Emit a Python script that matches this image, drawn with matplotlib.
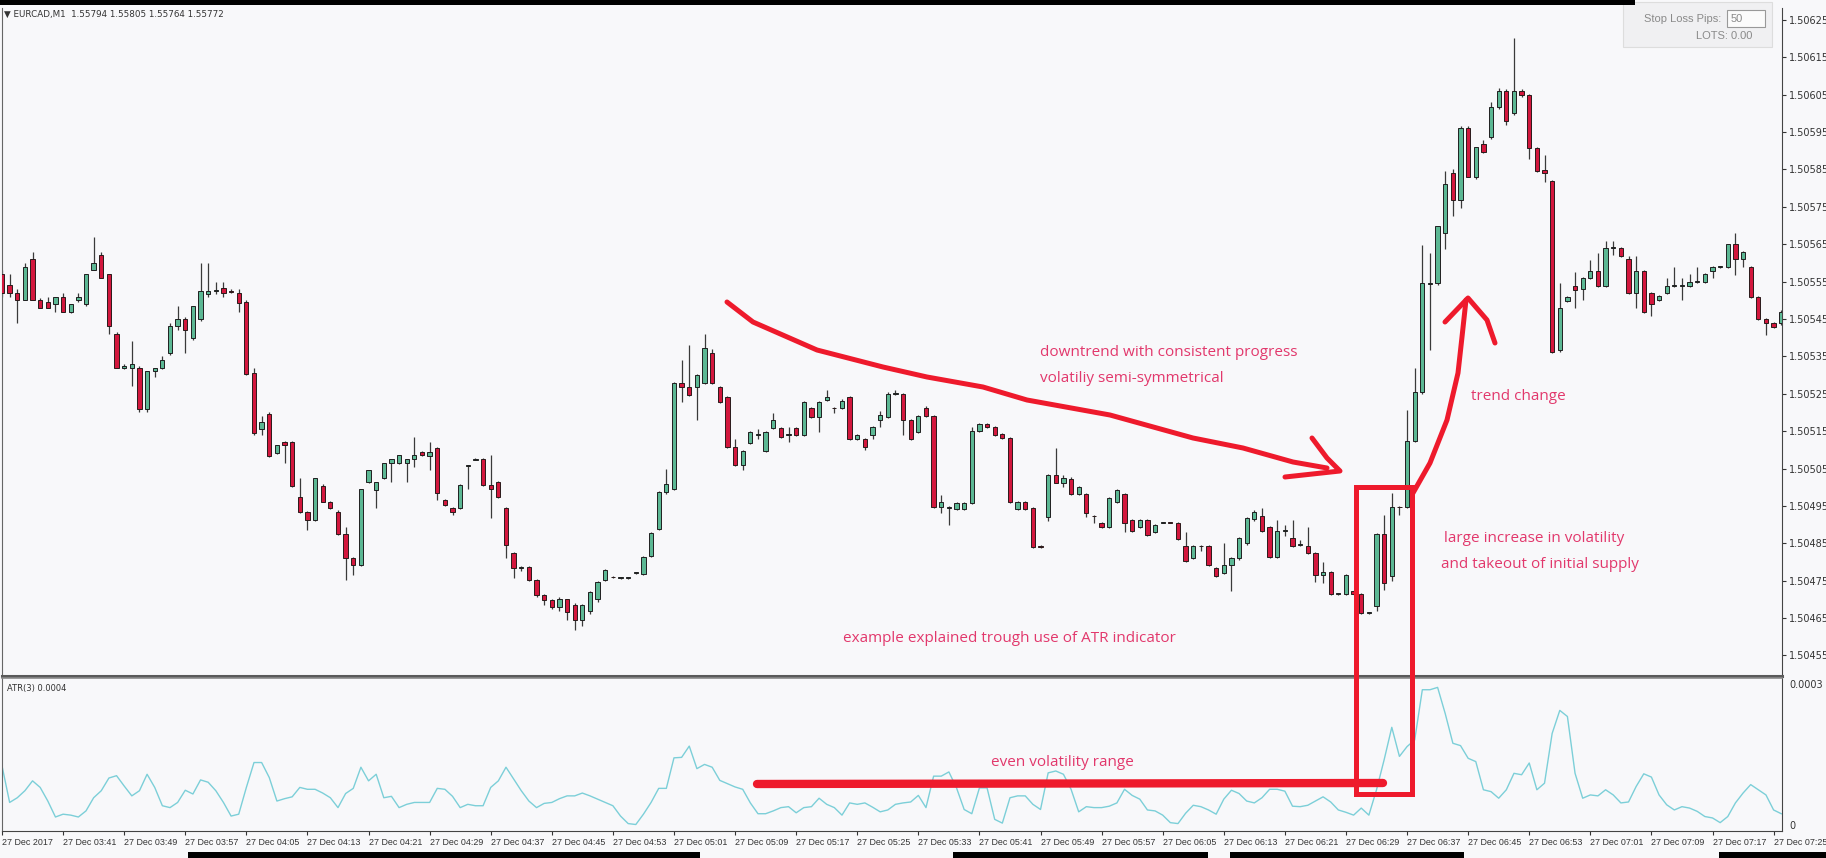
import matplotlib.pyplot as plt
import numpy as np
from matplotlib.lines import Line2D
from matplotlib.patches import Rectangle

W, H = 1826, 858

# EURCAD M1 bars, values in points above 1.50000 (1 point = 0.00001)
open_pts = [557, 554, 552, 550, 561, 550, 549.5, 549, 551, 547, 550, 549, 558, 562, 557, 541, 532, 532, 532, 521,
            531, 532, 536, 543, 545, 540, 545, 551.7, 552.5, 553.3, 552.5, 552, 549.5, 530.6, 515.6, 519.6, 509.2, 512.1, 512.1, 497.4,
            493.4, 491.2, 500.3, 496.1, 493.4, 487.5, 481.1, 479.2, 501.4, 499.3, 502.5, 506.5, 506.5, 506.5, 507.6, 509.4, 508.4, 510.5, 496.6, 494.5,
            494.5, 505.7, 507.4, 507.6, 500.6, 501.4, 494.5, 482.5, 478.5, 478.7, 475.2, 471.2, 469.9, 468, 470, 468.5, 464.5, 467, 470, 475.2,
            476, 475.8, 475.7, 477, 476.8, 481.6, 488.8, 498.7, 499.5, 527.9, 526.8, 526.8, 527.9, 535.9, 526.8, 524.1, 510.8, 506, 511.8, 514,
            509.7, 515.9, 515.9, 514, 515.9, 514, 521.2, 518.8, 523.3, 521.2, 521.2, 524.1, 512.9, 512.9, 514, 518, 518.8, 525, 525, 518,
            514.8, 521.2, 519, 494.7, 494.5, 494.2, 494.2, 495.8, 515, 516.9, 516.1, 514.2, 513.2, 494.2, 496, 494.5, 484.1, 492, 503.3, 501.2,
            502.2, 498.2, 498.2, 492.3, 490.5, 489.4, 496, 498.2, 491.2, 489.4, 491.2, 488, 490.5, 490.5, 490.5, 484.3, 481.1, 484.3, 484.3, 478.4,
            477.1, 479.2, 481.1, 485.1, 491.5, 492.3, 489.4, 481.4, 488.3, 486.4, 484.5, 484.3, 482.4, 476.5, 477.4, 471.5, 471.5, 472.3, 471.5, 466.4,
            468.3, 487.5, 476.3, 494.7, 494.7, 512.4, 525.5, 554.3, 554.6, 568, 584, 576.8, 596.1, 583, 591.8, 593.7, 601.7, 606, 600.1, 606,
            604.9, 590.7, 584.8, 581.9, 536.7, 549.8, 553.8, 553, 556, 557.8, 553.8, 564, 564, 561, 552, 557.8, 552, 550.1, 552, 553.8,
            553.8, 553.8, 554.9, 554.9, 557.8, 558.9, 558.9, 565, 561, 558.9, 550.9, 545, 543.9, 543.9]
high_pts = [558, 557, 553, 560, 563, 550.5, 551, 551, 552, 549, 552, 557, 567, 563, 557, 541.5, 533, 539, 532.5, 531,
            532, 535, 544, 548.5, 545.5, 548.5, 560, 560, 555, 555, 553, 553, 550, 532, 519, 520, 511.3, 512.3, 512.3, 502.5,
            493.6, 502.5, 500.8, 496.3, 493.8, 489.4, 481.3, 499.5, 504.6, 501.4, 506.5, 507.6, 508.6, 507.6, 513.4, 509.6, 512.1, 510.8, 496.9, 494.7,
            500.8, 505.9, 507.8, 507.8, 508.6, 501.7, 494.8, 482.8, 478.9, 479, 475.4, 471.4, 470.2, 470.5, 470.2, 469, 468.8, 472.3, 474.9, 478.2,
            476.3, 476.1, 476, 477.3, 481.6, 488, 498.9, 504.9, 528.1, 534, 538, 530.2, 541, 537, 527, 524.3, 512.9, 509.9, 515, 515.5,
            515, 519.9, 516.1, 516, 516.1, 523, 521.4, 523, 526, 521.5, 523.5, 524.3, 514.2, 513.1, 516.3, 520.4, 525.5, 526, 525.2, 518.2,
            519.2, 521.8, 519.2, 498, 495, 496, 496, 516.1, 517.2, 517.3, 516.3, 514.5, 513.4, 496.3, 496.2, 494.7, 484.5, 503.5, 510.5, 503.3,
            502.8, 500.3, 498.4, 492.6, 490.8, 497.3, 499.5, 498.4, 491.4, 491.4, 491.4, 490.2, 490.7, 490.7, 490.8, 488, 484.5, 484.5, 484.5, 478.6,
            485, 481.3, 486.6, 492, 494, 494.5, 489.6, 491.2, 490, 491.2, 486, 489.4, 482.6, 480, 477.6, 471.8, 476.7, 472.5, 471.7, 466.6,
            487.7, 492.6, 498.5, 495, 520.7, 531.9, 564.8, 562.6, 570, 584.6, 585, 596.5, 596.5, 591, 592.9, 603, 606.8, 606.5, 620.1, 606.5,
            605.2, 591, 588.9, 582.2, 554.6, 551.2, 557.6, 556.3, 560.8, 562.6, 565.9, 565.9, 564.3, 561.8, 561.8, 558.1, 552.3, 551.5, 556, 558.9,
            556, 557, 558.9, 557.2, 559.2, 559.1, 565.2, 568, 563.2, 559.2, 551.2, 545.3, 544.2, 547.5]
low_pts = [551, 551, 544, 550, 550, 548, 548, 547, 547, 546.5, 549.5, 548.5, 558, 556, 541, 532, 531.5, 527, 520, 520,
           529.5, 531.5, 535.5, 542, 536, 539.5, 544.5, 551, 551.7, 551, 552, 547, 530, 514, 514, 508, 509, 506.5, 500, 493,
           488.6, 491, 496, 494.3, 487.3, 475.2, 476.5, 479, 501.2, 494.5, 502.3, 501.4, 506.3, 501.4, 505.4, 508.4, 504.6, 496.6, 495.1, 492.6,
           494.3, 499.5, 507.2, 500.4, 491.8, 497.2, 481.1, 475.7, 477.5, 475, 470.5, 468.5, 467.3, 467, 464.5, 461.8, 463, 466.2, 469.2, 475,
           475.6, 475.5, 475.4, 476.7, 476.5, 481.3, 488.5, 498.3, 499.2, 522.8, 524.5, 518, 527.5, 527.5, 522.5, 510.6, 505.8, 504.6, 511.5, 513,
           509.4, 515.6, 513.2, 512, 513.8, 513.8, 518.6, 514.8, 523, 519.8, 521, 512.7, 512.5, 510, 513, 516, 518.6, 524.8, 514, 512.7,
           514.5, 518.8, 494.5, 493, 489.9, 494, 494, 495.5, 514.8, 515.8, 513.8, 513, 495.8, 494, 493.8, 483.8, 483.7, 491, 501, 500,
           498, 498, 492, 490.5, 489.2, 489.2, 495.8, 488, 488, 489.2, 487, 487.8, 490.3, 490.3, 486, 480, 480.9, 482.9, 479, 476,
           476.9, 472.3, 480.5, 484.5, 491, 488, 481.2, 481.2, 487, 484.1, 484.3, 482.2, 474.7, 474.4, 471.3, 471.2, 471.3, 471.2, 466.2, 466.1,
           467, 472.5, 475, 492.6, 494.4, 512, 525, 536.7, 554.2, 563.7, 572.5, 574.7, 583, 582.5, 589.5, 593.2, 601.2, 597, 599.5, 604.5,
           587.8, 584.4, 581.6, 535.9, 536.2, 549.5, 547.9, 550.1, 555.6, 553.5, 553.5, 562.1, 561.5, 551.7, 547.9, 546.6, 545.8, 549.8, 551.8, 553.5,
           550.1, 553.5, 554.6, 554.6, 556, 558.7, 558.7, 556.8, 558.9, 550.6, 544.7, 540.7, 542.6, 543.5]
close_pts = [552, 552, 550, 559, 550, 548, 548, 551, 547, 549, 551, 557, 560, 556, 543, 532, 532.3, 533, 521, 531,
             532, 534, 543, 545, 542, 548.5, 552.5, 552.5, 552.7, 552, 552.3, 549.3, 530.3, 514.5, 517.5, 508.4, 511.3, 511.3, 500.3, 493.4,
             491.2, 502.5, 496.1, 494.5, 487.5, 481.1, 479.2, 499.5, 504.6, 501.4, 506.5, 507.6, 508.6, 507.6, 508.6, 508.6, 509.4, 498.5, 495.3, 493.4,
             500.6, 505.7, 507.6, 500.6, 499.5, 497.4, 484.6, 478.4, 478.7, 475.2, 471.2, 469.9, 468, 470, 466.6, 464.5, 468.5, 472, 474.7, 477.9,
             475.9, 475.8, 475.7, 477, 481.4, 487.8, 498.7, 500.9, 527.9, 526.8, 524.7, 530, 537.2, 527.9, 522.8, 510.8, 506, 509.7, 514.8, 514.2,
             514.8, 518, 513.4, 514.1, 514, 522.8, 518.8, 522.8, 524.1, 521.1, 523, 512.9, 514, 510.8, 516.1, 519.3, 525, 525.1, 518, 512.9,
             519, 519, 494.7, 496, 494.5, 495.8, 495.8, 515, 516.9, 516.1, 514, 513.2, 496, 496, 494.2, 484, 484, 503.3, 501.2, 502.5,
             498.2, 500.1, 493.1, 492.2, 489.4, 497.1, 499.3, 490.5, 488.2, 491.2, 487.2, 490, 490.5, 490.4, 486.2, 480.2, 484.3, 484.2, 479.2, 476.3,
             479.2, 481.1, 486.4, 491.8, 493.4, 488.3, 481.4, 488.3, 488.4, 484.3, 484.6, 482.4, 476.5, 477.4, 471.5, 471.5, 476.5, 471.5, 466.4, 466.4,
             487.5, 474.4, 494.7, 494.6, 512.4, 525.5, 554.6, 554.6, 569.9, 581.1, 576.8, 596.1, 583, 591, 589.7, 601.7, 606, 598, 606, 604.9,
             590.7, 584.6, 584, 536.1, 547.9, 550.9, 552.8, 556, 557.8, 553.8, 564, 564.1, 561.8, 552, 557.8, 546.9, 549, 551.2, 553.8, 553.9,
             553.8, 554.9, 555, 557, 558.9, 558.9, 565, 561, 562.9, 550.9, 545, 543.9, 542.9, 546.9]

# ATR(3), in points
atr_pts = [12.6, 4.8, 5.8, 7.3, 9.4, 8.0, 5.1, 1.7, 2.3, 2.1, 1.7, 3.0, 5.8, 7.3, 10.0, 10.5, 8.3, 6.2, 7.3, 10.8,
           8.0, 4.1, 3.7, 4.8, 7.4, 6.6, 9.6, 9.1, 7.3, 4.8, 1.9, 2.3, 8.0, 13.3, 13.3, 10.1, 5.1, 5.6, 6.0, 8.0,
           7.6, 7.6, 6.8, 5.8, 3.7, 6.7, 7.8, 12.3, 9.4, 10.8, 5.8, 6.1, 3.7, 4.4, 4.8, 4.8, 4.8, 7.8, 7.6, 6.1,
           3.7, 4.4, 4.1, 4.1, 8.0, 9.4, 12.3, 9.8, 7.3, 5.1, 3.7, 4.6, 4.8, 5.6, 6.2, 6.2, 6.8, 6.2, 5.5, 4.8,
           4.1, 1.9, 0.3, 0.1, 2.3, 4.8, 7.8, 7.8, 14.3, 14.4, 16.8, 12.0, 12.9, 12.3, 9.5, 8.8, 8.1, 7.6, 4.7, 2.4,
           2.4, 3.0, 3.7, 3.9, 2.6, 3.7, 3.9, 5.7, 4.4, 3.7, 2.1, 4.7, 4.4, 4.7, 3.8, 2.8, 3.2, 4.4, 4.7, 4.9,
           6.3, 3.7, 10.4, 10.4, 11.3, 7.9, 3.3, 2.4, 7.9, 7.9, 1.2, 0.4, 5.8, 6.2, 6.2, 4.4, 3.3, 11.1, 11.5, 10.8,
           7.6, 2.8, 3.9, 3.7, 3.7, 4.0, 4.7, 7.6, 6.3, 5.5, 3.2, 3.0, 2.1, 0.5, 0.3, 2.5, 4.2, 3.9, 3.2, 2.3,
           5.5, 7.4, 6.7, 5.1, 4.7, 5.8, 7.6, 7.6, 7.2, 4.0, 3.9, 4.2, 5.1, 6.0, 4.9, 3.2, 2.7, 2.1, 3.6, 2.1,
           7.5, 13.9, 20.8, 14.6, 16.7, 18.1, 28.8, 28.8, 29.3, 23.7, 17.4, 16.9, 14.2, 13.5, 7.5, 7.1, 5.7, 7.5, 11.0, 10.7,
           13.2, 7.5, 8.9, 19.5, 24.4, 23.1, 11.0, 5.7, 6.4, 6.2, 7.5, 6.4, 4.7, 4.9, 8.2, 10.9, 10.2, 6.4, 4.3, 3.2,
           3.9, 3.6, 2.9, 1.8, 1.5, 0.5, 1.8, 4.7, 6.8, 8.6, 7.5, 6.4, 3.2, 2.4]

price_ticks = [1.50455, 1.50465, 1.50475, 1.50485, 1.50495, 1.50505, 1.50515, 1.50525, 1.50535,
               1.50545, 1.50555, 1.50565, 1.50575, 1.50585, 1.50595, 1.50605, 1.50615, 1.50625]
time_ticks = [0, 8, 16, 24, 32, 40, 48, 56, 64, 72, 80, 88, 96, 104, 112, 120, 128, 136, 144, 152,
              160, 168, 176, 184, 192, 200, 208, 216, 224, 232]
time_labels = ["27 Dec 2017", "27 Dec 03:41", "27 Dec 03:49", "27 Dec 03:57", "27 Dec 04:05", "27 Dec 04:13",
               "27 Dec 04:21", "27 Dec 04:29", "27 Dec 04:37", "27 Dec 04:45", "27 Dec 04:53", "27 Dec 05:01",
               "27 Dec 05:09", "27 Dec 05:17", "27 Dec 05:25", "27 Dec 05:33", "27 Dec 05:41", "27 Dec 05:49",
               "27 Dec 05:57", "27 Dec 06:05", "27 Dec 06:13", "27 Dec 06:21", "27 Dec 06:29", "27 Dec 06:37",
               "27 Dec 06:45", "27 Dec 06:53", "27 Dec 07:01", "27 Dec 07:09", "27 Dec 07:17", "27 Dec 07:25"]

o = 1.5 + np.array(open_pts) / 1e5
h = 1.5 + np.array(high_pts) / 1e5
l = 1.5 + np.array(low_pts) / 1e5
c = 1.5 + np.array(close_pts) / 1e5
atr = np.array(atr_pts) / 1e5
x = np.arange(len(o))

bg = "#f8f8fa"
up_col = "#5cb894"
down_col = "#d3173d"
red = "#ee1a2c"
pink = "#e2386c"
narrow = ["Liberation Sans Narrow", "Liberation Sans", "DejaVu Sans"]


def fx(px):
    return px / W


def fy(py):
    return 1 - py / H


fig = plt.figure(figsize=(W / 100, H / 100), dpi=100)
fig.patch.set_facecolor(bg)

ax = fig.add_axes([fx(2), fy(676), fx(1782) - fx(2), fy(8) - fy(676)])
ax2 = fig.add_axes([fx(2), fy(831), fx(1782) - fx(2), fy(678) - fy(831)], sharex=ax)

# candles
up = c >= o
ax.vlines(x, l, h, color="#3a3a3a", lw=0.9, zorder=2)
body_lo = np.minimum(o, c)
body_h = np.maximum(np.abs(c - o), 0.000002)
ax.bar(x[up], body_h[up], bottom=body_lo[up], width=0.56, color=up_col,
       edgecolor="#1f1f1f", linewidth=0.7, zorder=3)
ax.bar(x[~up], body_h[~up], bottom=body_lo[~up], width=0.56, color=down_col,
       edgecolor="#2a1a1a", linewidth=0.7, zorder=3)

ax.set_xlim(0.13, 233.1)
ax.set_ylim(1.504495, 1.506282)
ax.set_facecolor(bg)
ax.yaxis.tick_right()
ax.set_yticks(price_ticks)
ax.set_yticklabels([f"{t:.5f}" for t in price_ticks])
ax.tick_params(axis="y", length=3, width=0.8, pad=2, labelsize=7, colors="#333333")
ax.tick_params(axis="x", bottom=False, labelbottom=False)
ax.spines["top"].set_visible(False)
ax.spines["left"].set_color("#666666")
ax.spines["right"].set_color("#444444")
ax.spines["bottom"].set_color("#5a5a5a")
ax.spines["bottom"].set_linewidth(2.2)

# ATR window
ax2.plot(x, atr, color="#7ccfd8", lw=1.0, zorder=2)
ax2.set_facecolor(bg)
ax2.set_ylim(-0.0000128, 0.000313)
ax2.yaxis.tick_right()
ax2.set_yticks([0, 0.0003])
ax2.set_yticklabels(["0", "0.0003"])
ax2.tick_params(axis="y", length=0, pad=5, labelsize=7, colors="#333333")
ax2.set_xticks(time_ticks)
ax2.set_xticklabels(time_labels, family=narrow)
ax2.tick_params(axis="x", length=3, width=0.8, pad=2, labelsize=6.4, colors="#333333")
for lab in ax2.get_xticklabels():
    lab.set_horizontalalignment("left")
ax2.spines["top"].set_color("#8a8a8a")
ax2.spines["top"].set_linewidth(1.2)
ax2.spines["left"].set_color("#666666")
ax2.spines["right"].set_color("#444444")
ax2.spines["bottom"].set_color("#444444")
ax2.text(0.003, 0.93, "ATR(3) 0.0004", transform=ax2.transAxes, fontsize=6, color="#333333", va="center")

# header and trade panel
fig.text(fx(4), fy(14), "▼ EURCAD,M1  1.55794 1.55805 1.55764 1.55772", fontsize=6.3,
         color="#333333", va="center")
fig.add_artist(Rectangle((fx(1623), fy(47)), fx(1772) - fx(1623), fy(2) - fy(47),
                         transform=fig.transFigure, facecolor="#f0f0f2", edgecolor="#dddddd", lw=0.8))
fig.add_artist(Rectangle((fx(1727), fy(27)), fx(1765) - fx(1727), fy(10) - fy(27),
                         transform=fig.transFigure, facecolor="#fbfbfb", edgecolor="#999999", lw=0.8))
fig.text(fx(1721), fy(19), "Stop Loss Pips:", fontsize=8, color="#8a8a8a", ha="right", va="center",
         family="Liberation Sans")
fig.text(fx(1731), fy(19), "50", fontsize=8, color="#8a8a8a", va="center", family="Liberation Sans")
fig.text(fx(1752), fy(36), "LOTS: 0.00", fontsize=8, color="#8a8a8a", ha="right", va="center",
         family="Liberation Sans")

# screenshot edges
fig.add_artist(Rectangle((0, fy(5)), fx(1635), fy(0) - fy(5), transform=fig.transFigure,
                         facecolor="black", edgecolor="none"))
for a, b in [(188, 700), (953, 1208), (1230, 1464), (1719, 1826)]:
    fig.add_artist(Rectangle((fx(a), 0), fx(b) - fx(a), fy(852), transform=fig.transFigure,
                             facecolor="black", edgecolor="none"))


def stroke(pts, lw=3.6):
    xs = [fx(p[0]) for p in pts]
    ys = [fy(p[1]) for p in pts]
    fig.add_artist(Line2D(xs, ys, transform=fig.transFigure, color=red, lw=lw,
                          solid_capstyle="round", solid_joinstyle="round", zorder=10))


# downtrend arrow
stroke([(727, 302), (753, 322), (817, 350), (883, 367), (927, 377), (983, 387), (1027, 400),
        (1110, 415), (1193, 438), (1243, 448), (1293, 462), (1327, 468)])
stroke([(1312, 438), (1327, 458), (1340, 471), (1285, 477)])
# trend change arrow
stroke([(1413, 493), (1430, 463), (1447, 420), (1458, 373), (1462, 337), (1466, 300)])
stroke([(1445, 322), (1468, 298), (1487, 320), (1495, 343)])
# box and volatility bar
fig.add_artist(Rectangle((fx(1356), fy(794)), fx(1412) - fx(1356), fy(487) - fy(794),
                         transform=fig.transFigure, fill=False, edgecolor=red, lw=3.6, zorder=10))
stroke([(757, 784), (1383, 783)], lw=6)

# notes
notes = [(1040, 353, "downtrend with consistent progress"),
         (1040, 378, "volatiliy semi-symmetrical"),
         (1471, 396, "trend change"),
         (1444, 538, "large increase in volatility"),
         (1441, 565, "and takeout of initial supply"),
         (843, 639, "example explained trough use of ATR indicator"),
         (991, 762, "even volatility range")]
for px_, py_, s in notes:
    fig.text(fx(px_), fy(py_), s, fontsize=11, color=pink, va="center", family="Open Sans", zorder=11)

fig.savefig("out.png", dpi=100, facecolor=bg)
